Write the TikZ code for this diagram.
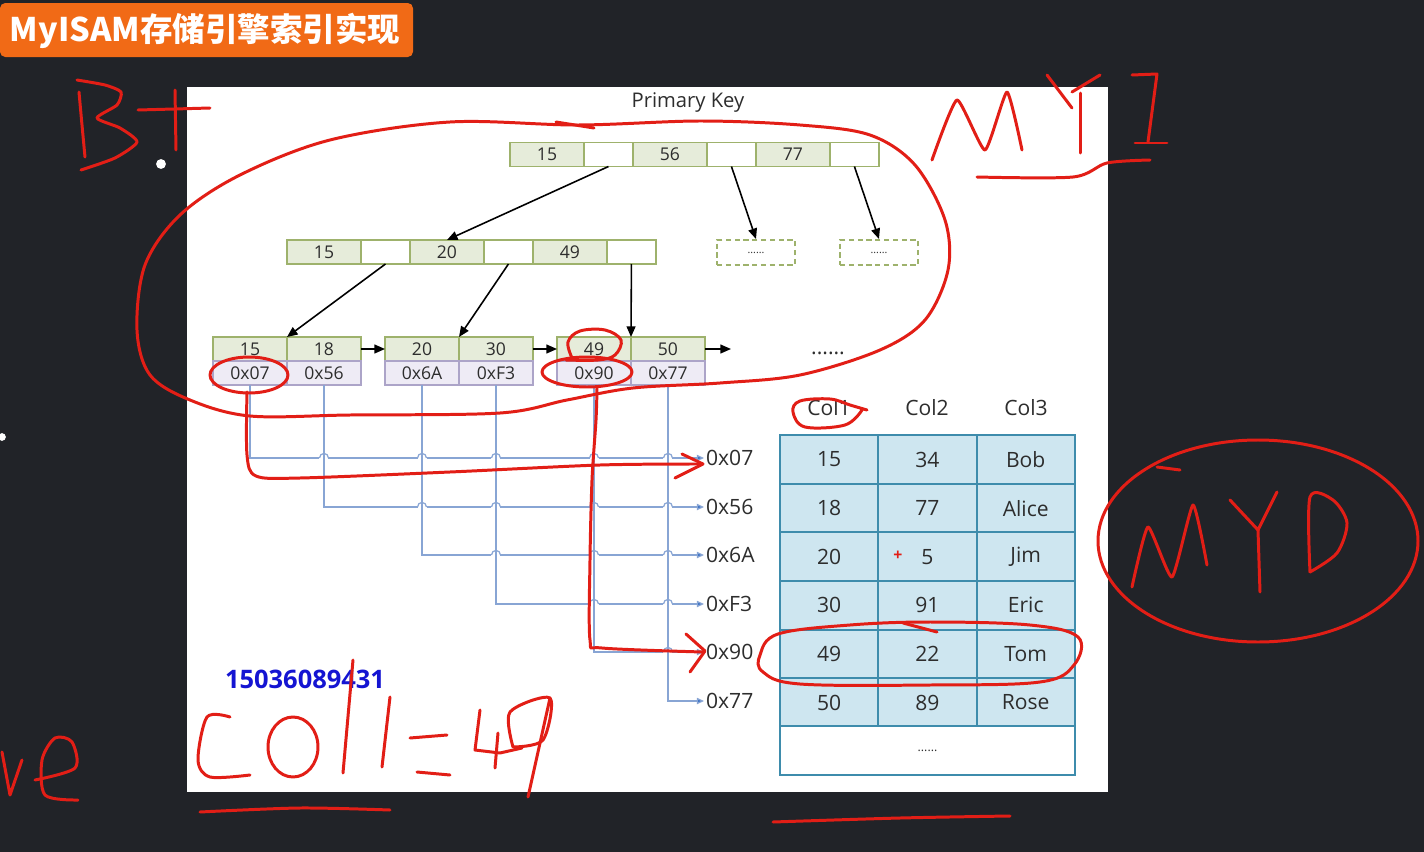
\documentclass[tikz,border=0pt]{standalone}
\usepackage{fontspec}
\setmainfont{Open Sans}
\newfontfamily\cjk{Noto Sans CJK SC}
\usetikzlibrary{positioning,arrows.meta,calc}

\definecolor{board}{RGB}{33,35,40}
\definecolor{banner}{RGB}{241,106,22}
\definecolor{keyfill}{RGB}{230,236,218}
\definecolor{keyline}{RGB}{158,178,108}
\definecolor{ptrfill}{RGB}{238,235,245}
\definecolor{ptrline}{RGB}{172,164,200}
\definecolor{rowfill}{RGB}{206,230,240}
\definecolor{rowline}{RGB}{62,140,172}
\definecolor{linkblue}{RGB}{136,165,212}
\definecolor{tipblue}{RGB}{52,108,196}
\definecolor{penred}{RGB}{226,30,22}
\definecolor{numblue}{RGB}{20,20,210}
\definecolor{ink}{RGB}{45,45,45}

\tikzset{
  cell/.style={draw=keyline, fill=keyfill, line width=0.8pt, minimum height=0.48cm,
    inner sep=0pt, outer sep=0pt, text=ink, font=\fontsize{10}{11}\selectfont},
  keycell/.style={cell, minimum width=1.48cm},
  gapcell/.style={cell, fill=white, minimum width=0.98cm},
  ptrcell/.style={keycell, draw=ptrline, fill=ptrfill},
  ghostbox/.style={draw=keyline, densely dashed, line width=1.1pt, minimum width=1.56cm,
    minimum height=0.5cm, inner sep=0pt, text=ink, font=\fontsize{6}{6}\selectfont},
  treearrow/.style={-{Triangle[length=6pt,width=5pt]}, line width=0.9pt},
  link/.style={draw=linkblue, line width=0.7pt},
  addr/.style={anchor=west, inner sep=1pt, text=ink, font=\fontsize{12}{14}\selectfont},
  rowcell/.style={draw=rowline, fill=rowfill, line width=1.1pt, minimum width=1.966cm,
    minimum height=0.972cm, inner sep=0pt, outer sep=0pt, text=ink, font=\fontsize{12}{14}\selectfont},
  redpen/.style={draw=penred, line width=1.7pt, line cap=round, line join=round},
}

\begin{document}
\begin{tikzpicture}[x=0.02cm, y=-0.02cm]
\useasboundingbox (0,0) rectangle (1424,852);
\fill[board] (0,0) rectangle (1424,852);

% title and slide
\fill[banner, rounded corners=3pt] (0,3) rectangle (413,57);
\node[text=white, font=\cjk\bfseries\fontsize{18.5}{20}\selectfont] (title) at (205,31) {MyISAM存储引擎索引实现};
\fill[white] (187,87) rectangle (1108,792);
\node[text=ink, font=\fontsize{11.5}{13}\selectfont] (pk) at (688,103) {Primary Key};

% root node
\node[keycell] (t1) at (547,154.5) {15};
\node[gapcell, right=0pt of t1] (t2) {};
\node[keycell, right=0pt of t2] (t3) {56};
\node[gapcell, right=0pt of t3] (t4) {};
\node[keycell, right=0pt of t4] (t5) {77};
\node[gapcell, right=0pt of t5] (t6) {};

% inner nodes
\node[keycell] (m1) at (324,252) {15};
\node[gapcell, right=0pt of m1] (m2) {};
\node[keycell, right=0pt of m2] (m3) {20};
\node[gapcell, right=0pt of m3] (m4) {};
\node[keycell, right=0pt of m4] (m5) {49};
\node[gapcell, right=0pt of m5] (m6) {};
\node[ghostbox] (g1) at (756,252.5) {......};
\node[ghostbox] (g2) at (879,252.5) {......};

% leaves
\node[keycell] (k1) at (250,349) {15};
\node[keycell, right=0pt of k1] (k2) {18};
\node[keycell] (k3) at (422,349) {20};
\node[keycell, right=0pt of k3] (k4) {30};
\node[keycell] (k5) at (594,349) {49};
\node[keycell, right=0pt of k5] (k6) {50};
\foreach \i/\v in {1/0x07,2/0x56,3/0x6A,4/0xF3,5/0x90,6/0x77}
  \node[ptrcell, below=0pt of k\i] (p\i) {\v};
\coordinate (more) at (731,349);
\node[text=ink, font=\fontsize{12}{14}\selectfont] (dots) at (828,353) {......};

\draw[treearrow] (t2.south) -- (m3.north);
\draw[treearrow] (t4.south) -- (g1.north);
\draw[treearrow] (t6.south) -- (g2.north);
\draw[treearrow] (m2.south) -- (k2.north west);
\draw[treearrow] (m4.south) -- (k4.north west);
\draw[treearrow] (m6.south) -- (k6.north west);
\draw[treearrow] (k2.east) -- (k3.west);
\draw[treearrow] (k4.east) -- (k5.west);
\draw[treearrow] (k6.east) -- (more);

% addresses and links to the data file
\foreach \i/\y/\v in {1/458/0x07,2/507/0x56,3/555/0x6A,4/604/0xF3,5/652/0x90,6/701/0x77}{
  \node[addr] (a\i) at (704,\y) {\v};
  \draw[link, -{Triangle[length=4pt,width=3.5pt,fill=tipblue]}] (p\i.south) |- (a\i.west);
}
% hops where the lines cross
\foreach \i in {1,...,5}{
  \pgfmathtruncatemacro\nxt{\i+1}
  \foreach \j in {\nxt,...,6}{
    \coordinate (h) at (p\j |- a\i);
    \fill[white] ($(h)+(-4.5,-1.5)$) rectangle ($(h)+(4.5,1.5)$);
    \draw[link] ($(h)+(0,-3)$) -- ($(h)+(0,3)$);
    \draw[link] ($(h)+(-4.5,0)$) .. controls ($(h)+(-4.5,-6)$) and ($(h)+(4.5,-6)$) .. ($(h)+(4.5,0)$);
  }
}

% data table
\foreach \x/\t [count=\i] in {829/Col1,927/Col2,1026/Col3}
  \node[text=ink, font=\fontsize{12}{14}\selectfont] (h\i) at (\x,408) {\t};
\foreach \a/\b/\c [count=\row] in {15/34/Bob,18/77/Alice,20/5/Jim,30/91/Eric,49/22/Tom,50/89/Rose}{
  \node[rowcell] (c\row a) at (829.15,{410.9+48.6*\row}) {\a};
  \node[rowcell, right=0pt of c\row a] (c\row b) {\b};
  \node[rowcell, right=0pt of c\row b] (c\row c) {\c};
}
\node[rowcell, fill=white, minimum width=5.9cm, font=\fontsize{7}{7}\selectfont] (c7) at (927.5,750.6) {......};
\node[text=penred, font=\bfseries\fontsize{9}{9}\selectfont] (cursor) at (898,556) {+};

\node[text=numblue, font=\bfseries\fontsize{14.5}{16}\selectfont] (phone) at (305,679) {15036089431};
\fill[white] (161,164) circle[radius=2.8pt];
\fill[white] (2,437) circle[radius=2.2pt];

% red pen notes
\draw[redpen] plot[smooth, tension=0.5] coordinates {(79,92) (82,125) (85,157)};
\draw[redpen] plot[smooth, tension=0.4] coordinates {(77,80) (105,85) (121,92) (117,105) (97,118) (120,128) (137,142) (115,158) (81,170)};
\draw[redpen] (138,110) -- (210,108);
\draw[redpen] (175,90) -- (176,150);

\draw[redpen] plot[smooth, tension=0.3] coordinates {(932,160) (957,100) (985,150) (1007,92) (1022,150)};
\draw[redpen] (1047,75) -- (1072,108);
\draw[redpen] (1072,92) -- (1100,75);
\draw[redpen] (1080,93) -- (1080,153);
\draw[redpen] (1132,75) -- (1157,74) -- (1148,142);
\draw[redpen] (1135,143) -- (1167,143);
\draw[redpen] plot[smooth, tension=0.5] coordinates {(977,177) (1073,177) (1107,163) (1150,160)};

\draw[redpen] plot[smooth cycle, tension=0.55] coordinates {(578,125) (700,121) (800,125) (870,135) (915,165) (945,220) (948,270) (925,320) (880,350) (800,375) (720,383) (633,388) (567,400) (500,413) (350,415) (250,416) (190,400) (150,375) (137,330) (145,265) (180,215) (240,175) (330,140) (450,122)};
\draw[redpen] (556,122) -- (594,128);

\draw[redpen] (249,375) ellipse[x radius=39, y radius=18];
\draw[redpen] plot[smooth, tension=0.6] coordinates {(572,358) (568,342) (580,331) (605,330) (621,340) (615,355) (598,360) (566,360)};
\draw[redpen] (587,372) ellipse[x radius=45, y radius=15];

\draw[redpen] plot[smooth, tension=0.5] coordinates {(247,392) (247,455) (256,476) (300,478) (450,472) (600,465) (702,464)};
\draw[redpen] (682,454) -- (703,464) -- (675,478);
\draw[redpen] plot[smooth, tension=0.5] coordinates {(597,388) (596,420) (592,480) (590,560) (590,640) (602,648) (703,652)};
\draw[redpen] (686,634) -- (705,651) -- (690,672);

\draw[redpen] plot[smooth, tension=0.6] coordinates {(862,410) (845,425) (805,427) (793,412) (800,401) (830,399) (850,405) (867,410)};
\draw[redpen] plot[smooth cycle, tension=0.6] coordinates {(760,655) (778,634) (850,625) (930,622) (1030,625) (1078,637) (1074,665) (1040,682) (930,685) (800,684) (763,672)};
\draw[redpen] (903,623) -- (937,632);

\draw[redpen] (1258,541) ellipse[x radius=160, y radius=101];
\draw[redpen] (1157,467) -- (1180,470);
\draw[redpen] plot[smooth, tension=0.3] coordinates {(1132,587) (1148,527) (1172,577) (1193,505) (1207,565)};
\draw[redpen] (1230,500) -- (1258,530) -- (1277,492);
\draw[redpen] (1258,530) -- (1260,592);
\draw[redpen] plot[smooth, tension=0.5] coordinates {(1310,572) (1310,497) (1333,500) (1347,523) (1337,553) (1310,572)};

\draw[redpen] plot[smooth, tension=0.5] coordinates {(230,717) (207,717) (198,760) (210,777) (250,775)};
\draw[redpen] (293,747) ellipse[x radius=25, y radius=30];
\draw[redpen] (343,773) -- (353,660);
\draw[redpen] (382,767) -- (390,697);
\draw[redpen] (410,738) -- (447,735);
\draw[redpen] (417,772) -- (450,775);
\draw[redpen] (480,710) -- (475,750) -- (500,753) -- (522,748);
\draw[redpen] (498,733) -- (495,768);
\draw[redpen] plot[smooth, tension=0.5] coordinates {(513,747) (510,712) (550,698) (543,740) (513,747)};
\draw[redpen] (550,698) -- (528,797);
\draw[redpen] plot[smooth, tension=0.5] coordinates {(200,812) (300,808) (390,810)};
\draw[redpen] plot[smooth, tension=0.5] coordinates {(773,822) (900,818) (1010,816)};

\draw[redpen] (2,752) -- (10,795) -- (22,760);
\draw[redpen] plot[smooth, tension=0.5] coordinates {(35,780) (75,768) (72,742) (55,738) (42,760) (45,795) (78,800)};
\end{tikzpicture}
\end{document}
